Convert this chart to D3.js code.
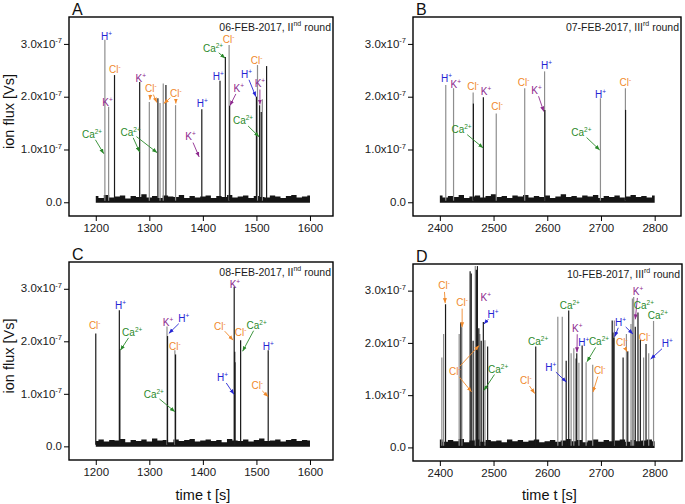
<!DOCTYPE html>
<html>
<head>
<meta charset="utf-8">
<script src="https://cdn.jsdelivr.net/npm/d3@7"></script>
<style>
  body { margin: 0; background: #fff; }
  text { font-family: "Liberation Sans", Arial, sans-serif; }
</style>
</head>
<body>
<svg id="chart" width="685" height="504"></svg>
<script>
// Ion flux peaks, values in units of 1e-7 Vs. run 1 = black trace, run 2 = grey trace
const peaksA = [
  [1217, 3.08, 2], [1224, 1.81, 2], [1235, 2.41, 1], [1282, 2.28, 1], [1300, 1.90, 2],
  [1316, 1.97, 1], [1320, 1.88, 2], [1326, 2.25, 2], [1331, 2.22, 1], [1349, 1.84, 2],
  [1398, 1.76, 1], [1432, 2.30, 1], [1442, 2.75, 1], [1449, 2.98, 2], [1450, 1.83, 1],
  [1500, 2.00, 1], [1502, 2.60, 2], [1506, 1.84, 1], [1509, 1.71, 1], [1511, 1.95, 2],
  [1519, 2.58, 1]
];
const peaksB = [
  [2411, 2.22, 2], [2425.5, 2.16, 2], [2462, 2.08, 2], [2462.5, 1.87, 1], [2481, 1.99, 1],
  [2505, 1.68, 2], [2558, 2.16, 2], [2595, 2.48, 2], [2595.5, 1.75, 1], [2699, 1.97, 2],
  [2745.5, 2.16, 2], [2745.8, 1.75, 1]
];
const peaksC = [
  [1200, 2.15, 1], [1244, 2.59, 1], [1245, 1.85, 1], [1333, 2.28, 2], [1334, 2.10, 1],
  [1347.7, 1.83, 2], [1349, 1.75, 1], [1458.5, 3.04, 1], [1459.5, 1.80, 1], [1460, 1.60, 1],
  [1470.5, 2.02, 1], [1522, 1.83, 1]
];
const peaksD = [
  [2403.7, 1.72, 2], [2407, 2.17, 2], [2410.6, 2.74, 1], [2436, 2.17, 2], [2439, 2.39, 1],
  [2441, 2.30, 2], [2456.4, 3.37, 1], [2458.5, 3.33, 1], [2462, 2.04, 1], [2466, 3.47, 2],
  [2468, 3.40, 1], [2470, 3.47, 1], [2472.6, 2.28, 1], [2474.5, 2.17, 2], [2477, 2.04, 1],
  [2481, 2.40, 1], [2484, 2.05, 2], [2489, 1.93, 1], [2578.6, 1.93, 1], [2619.7, 2.50, 2],
  [2628, 2.50, 2], [2635.3, 1.66, 1], [2640, 2.62, 1], [2644.5, 1.80, 2], [2649.5, 1.90, 2],
  [2653.8, 1.70, 1], [2655, 1.80, 1], [2659, 1.62, 2], [2665, 1.95, 1], [2672.4, 1.63, 2],
  [2684.7, 1.58, 2], [2721, 2.43, 1], [2722.5, 2.20, 1], [2724, 2.10, 1], [2725, 2.43, 2],
  [2741.3, 1.72, 1], [2747.5, 2.17, 2], [2750, 1.84, 1], [2756, 2.36, 2], [2758.6, 2.85, 2],
  [2761, 2.88, 2], [2764, 2.31, 1], [2769, 2.58, 1], [2773.4, 2.06, 1], [2779.5, 1.72, 2],
  [2784, 1.98, 1], [2789, 1.80, 2], [2798, 2.42, 2]
];

// Baseline noise, upper envelope read every 10 s across the run
const noiseA = [0.12, 0.08, 0.14, 0.09, 0.11, 0.13, 0.07, 0.12, 0.10, 0.15, 0.09, 0.12, 0.08, 0.13,
  0.11, 0.10, 0.14, 0.08, 0.12, 0.09, 0.11, 0.13, 0.08, 0.12, 0.10, 0.14, 0.09, 0.11, 0.13, 0.08,
  0.12, 0.10, 0.09, 0.13, 0.11, 0.08, 0.12, 0.14, 0.09, 0.11, 0.13];
const noiseB = [0.13, 0.09, 0.12, 0.10, 0.14, 0.08, 0.11, 0.13, 0.09, 0.12, 0.15, 0.10, 0.12, 0.08,
  0.13, 0.11, 0.14, 0.09, 0.12, 0.10, 0.13, 0.08, 0.11, 0.15, 0.10, 0.12, 0.09, 0.13, 0.11, 0.14,
  0.08, 0.12, 0.10, 0.13, 0.09, 0.11, 0.14, 0.10, 0.12, 0.09, 0.13];
const noiseC = [0.10, 0.13, 0.09, 0.12, 0.11, 0.14, 0.08, 0.12, 0.10, 0.13, 0.09, 0.15, 0.11, 0.12,
  0.08, 0.13, 0.10, 0.12, 0.14, 0.09, 0.11, 0.13, 0.10, 0.12, 0.08, 0.14, 0.11, 0.10, 0.13, 0.09,
  0.12, 0.15, 0.10, 0.11, 0.13, 0.09, 0.12, 0.14, 0.10, 0.12, 0.11];
const noiseD = [0.15, 0.11, 0.14, 0.12, 0.16, 0.10, 0.13, 0.15, 0.11, 0.14, 0.12, 0.13, 0.10, 0.15,
  0.12, 0.14, 0.11, 0.13, 0.15, 0.10, 0.12, 0.14, 0.11, 0.13, 0.16, 0.12, 0.14, 0.10, 0.13, 0.15,
  0.11, 0.14, 0.12, 0.13, 0.15, 0.11, 0.14, 0.12, 0.13, 0.15, 0.12];

// Ion labels: label position (t, v) and arrow targets
const labelsA = [
  { ion: 'H', t: 1220, v: 3.14 }, { ion: 'K', t: 1222, v: 1.89 }, { ion: 'Cl', t: 1235.5, v: 2.52 },
  { ion: 'Ca', t: 1193, v: 1.29, to: [[1215, 0.92]] }, { ion: 'K', t: 1284, v: 2.35 },
  { ion: 'Cl', t: 1302.8, v: 2.15, to: [[1301, 1.94], [1314, 1.89]] },
  { ion: 'Cl', t: 1349.5, v: 2.07, to: [[1327, 1.87], [1349.5, 1.87]] },
  { ion: 'Ca', t: 1265, v: 1.33, to: [[1282, 0.95], [1314.6, 0.94]] },
  { ion: 'K', t: 1377, v: 1.24, to: [[1393, 0.86]] }, { ion: 'H', t: 1398.7, v: 1.87 },
  { ion: 'H', t: 1428.6, v: 2.39 }, { ion: 'Ca', t: 1419, v: 2.92, to: [[1441.7, 2.73]] },
  { ion: 'Cl', t: 1448, v: 3.08 }, { ion: 'K', t: 1467, v: 2.16, to: [[1450.5, 1.83]] },
  { ion: 'H', t: 1481.7, v: 2.43, to: [[1499, 2.0]] }, { ion: 'Cl', t: 1500.4, v: 2.68 },
  { ion: 'K', t: 1506.5, v: 2.25, to: [[1506.5, 1.85]] }, { ion: 'Ca', t: 1475, v: 1.54, to: [[1505, 1.24]] }
];
const labelsB = [
  { ion: 'H', t: 2412.5, v: 2.34 }, { ion: 'K', t: 2429.8, v: 2.23 }, { ion: 'Cl', t: 2462, v: 2.19 },
  { ion: 'K', t: 2486, v: 2.09 }, { ion: 'Cl', t: 2506.6, v: 1.81 },
  { ion: 'Ca', t: 2440.4, v: 1.37, to: [[2480.6, 1.03]] }, { ion: 'Cl', t: 2556, v: 2.265 },
  { ion: 'K', t: 2580, v: 2.12, to: [[2593.5, 1.72]] }, { ion: 'H', t: 2598.5, v: 2.59 },
  { ion: 'H', t: 2699, v: 2.05 }, { ion: 'Ca', t: 2663.6, v: 1.32, to: [[2697.7, 0.99]] },
  { ion: 'Cl', t: 2745.5, v: 2.265 }
];
const labelsC = [
  { ion: 'Cl', t: 1198, v: 2.31 }, { ion: 'H', t: 1246, v: 2.69 },
  { ion: 'Ca', t: 1268, v: 2.17, to: [[1246, 1.83]] }, { ion: 'K', t: 1335, v: 2.35 },
  { ion: 'H', t: 1364.5, v: 2.43, to: [[1336.4, 2.15]] }, { ion: 'Cl', t: 1347.7, v: 1.91 },
  { ion: 'Ca', t: 1308.4, v: 0.99, to: [[1347.7, 0.66]] }, { ion: 'K', t: 1459.8, v: 3.08 },
  { ion: 'Cl', t: 1431.8, v: 2.29, to: [[1456.6, 2.02]] }, { ion: 'H', t: 1436.8, v: 1.31, to: [[1458, 0.99]] },
  { ion: 'Cl', t: 1470.5, v: 2.17 }, { ion: 'Ca', t: 1500.4, v: 2.31, to: [[1474.2, 1.81]] },
  { ion: 'H', t: 1522, v: 1.90 }, { ion: 'Cl', t: 1501.5, v: 1.15, to: [[1522, 0.945]] }
];
const labelsD = [
  { ion: 'Cl', t: 2408, v: 3.09, to: [[2409.9, 2.76]] }, { ion: 'Cl', t: 2441.5, v: 2.77, to: [[2441.5, 2.30]] },
  { ion: 'K', t: 2485.6, v: 2.87 }, { ion: 'H', t: 2499, v: 2.55, to: [[2482, 2.36]] },
  { ion: 'Cl', t: 2428, v: 1.45, to: [[2473, 1.95], [2459, 1.065]] },
  { ion: 'Ca', t: 2508.5, v: 1.50, to: [[2482, 1.09]] }, { ion: 'Ca', t: 2583, v: 2.03 },
  { ion: 'Cl', t: 2560, v: 1.28, to: [[2576.7, 1.03]] }, { ion: 'Ca', t: 2642, v: 2.72 },
  { ion: 'K', t: 2656, v: 2.28, to: [[2655.4, 1.82]] }, { ion: 'H', t: 2668, v: 2.01 },
  { ion: 'Ca', t: 2696.4, v: 2.02, to: [[2674, 1.64]] }, { ion: 'Cl', t: 2697.7, v: 1.47, to: [[2685.2, 1.06]] },
  { ion: 'H', t: 2606.5, v: 1.535, to: [[2635.7, 1.25]] },
  { ion: 'H', t: 2736.7, v: 2.40, to: [[2725.6, 2.12], [2759.6, 2.17]] },
  { ion: 'K', t: 2769, v: 2.975, to: [[2764, 2.45]] }, { ion: 'Ca', t: 2780, v: 2.71 },
  { ion: 'Ca', t: 2806, v: 2.53 }, { ion: 'Cl', t: 2739, v: 2.01, to: [[2749, 1.83]] },
  { ion: 'Cl', t: 2781.4, v: 2.105 }, { ion: 'H', t: 2823.6, v: 1.98, to: [[2792.6, 1.69]] }
];

// Axis ticks
const xTicksLow = [1200, 1300, 1400, 1500, 1600];
const xTicksHigh = [2400, 2500, 2600, 2700, 2800];
const yTicks = [0, 1, 2, 3];

// Ion text and colours
const ions = {
  H: { base: 'H', sup: '+', color: '#2626d4' },
  K: { base: 'K', sup: '+', color: '#8e2a8e' },
  Cl: { base: 'Cl', sup: '-', color: '#f08a2c' },
  Ca: { base: 'Ca', sup: '2+', color: '#2a8a2a' }
};

const panels = [
  { letter: 'A', box: [69, 17, 264, 199], tDomain: [1150, 1643], run: [1200, 1600], xTicks: xTicksLow,
    date: '06-FEB-2017, II', sup: 'nd', peaks: peaksA, noise: noiseA, labels: labelsA, yTitle: true, xTitle: false },
  { letter: 'B', box: [413, 17, 268, 199], tDomain: [2350, 2849], run: [2400, 2800], xTicks: xTicksHigh,
    date: '07-FEB-2017, III', sup: 'rd', peaks: peaksB, noise: noiseB, labels: labelsB, yTitle: false, xTitle: false },
  { letter: 'C', box: [69, 262, 264, 198], tDomain: [1150, 1643], run: [1200, 1600], xTicks: xTicksLow,
    date: '08-FEB-2017, II', sup: 'nd', peaks: peaksC, noise: noiseC, labels: labelsC, yTitle: true, xTitle: true },
  { letter: 'D', box: [413, 264, 269, 197], tDomain: [2350, 2851], run: [2400, 2800], xTicks: xTicksHigh,
    date: '10-FEB-2017, III', sup: 'rd', peaks: peaksD, noise: noiseD, labels: labelsD, yTitle: false, xTitle: true }
];

const svg = d3.select('#chart');

// arrow heads, one per ion colour
const defs = svg.append('defs');
Object.keys(ions).forEach(k => {
  defs.append('marker')
      .attr('id', 'arr-' + k)
      .attr('viewBox', '0 0 10 10')
      .attr('refX', 10).attr('refY', 5)
      .attr('markerWidth', 5).attr('markerHeight', 5)
      .attr('markerUnits', 'userSpaceOnUse')
      .attr('orient', 'auto')
    .append('path')
      .attr('d', 'M0,1 L10,5 L0,9 Z')
      .attr('fill', ions[k].color);
});

function supText(sel, base, sup, baseSize, supSize, after) {
  sel.append('tspan').attr('font-size', baseSize).text(base);
  sel.append('tspan').attr('font-size', supSize).attr('dy', -baseSize * 0.4).text(sup);
  if (after) sel.append('tspan').attr('font-size', baseSize).attr('dy', baseSize * 0.4).text(after);
}

function drawPanel(p) {
  const [bx, by, bw, bh] = p.box;
  const x = d3.scaleLinear().domain(p.tDomain).range([bx, bx + bw]);
  const y = d3.scaleLinear().domain([-0.26, 3.51]).range([by + bh, by]);
  const g = svg.append('g');

  // baseline noise band, stepped so the top edge reads as ragged noise
  const step = (p.run[1] - p.run[0]) / (p.noise.length - 1);
  const band = d3.area()
      .curve(d3.curveStep)
      .x((d, i) => x(p.run[0] + i * step))
      .y0(y(-0.01))
      .y1(d => y(d));
  g.append('path').datum(p.noise).attr('d', band).attr('fill', '#151515');

  // peaks: grey trace first, black on top
  const peaks = p.peaks.slice().sort((a, b) => b[2] - a[2]);
  g.selectAll('.peak')
    .data(peaks)
    .enter().append('line')
      .attr('class', 'peak')
      .attr('x1', d => x(d[0])).attr('x2', d => x(d[0]))
      .attr('y1', y(0.03)).attr('y2', d => y(d[1]))
      .attr('stroke', d => d[2] === 2 ? '#8e8e8e' : '#1a1a1a')
      .attr('stroke-width', 1.2);

  // arrows from labels to peaks
  p.labels.forEach(l => {
    if (!l.to) return;
    const lx = x(l.t), ly = y(l.v);
    l.to.forEach(tp => {
      const tx = x(tp[0]), ty = y(tp[1]);
      const dx = tx - lx, dy = ty - ly;
      const s = 1 / Math.sqrt((dx / 9) ** 2 + (dy / 6) ** 2);
      g.append('line')
          .attr('x1', lx + dx * s).attr('y1', ly + dy * s)
          .attr('x2', tx).attr('y2', ty)
          .attr('stroke', ions[l.ion].color)
          .attr('stroke-width', 0.9)
          .attr('marker-end', `url(#arr-${l.ion})`);
    });
  });

  // ion labels
  p.labels.forEach(l => {
    const t = g.append('text')
        .attr('x', x(l.t)).attr('y', y(l.v) + 3.5)
        .attr('text-anchor', 'middle')
        .attr('fill', ions[l.ion].color);
    supText(t, ions[l.ion].base, ions[l.ion].sup, 10, 6.5);
  });

  // axes
  const ya = g.append('g')
      .attr('transform', `translate(${bx},0)`)
      .call(d3.axisLeft(y).tickValues(yTicks).tickSize(5).tickPadding(2).tickFormat(''));
  ya.select('.domain').remove();
  ya.selectAll('.tick line').attr('stroke', '#000');
  ya.selectAll('.tick text').each(function(d) {
    const t = d3.select(this).attr('fill', '#1a1a1a');
    if (d === 0) t.append('tspan').attr('font-size', 11.5).text('0.0');
    else supText(t, d.toFixed(1) + 'x10', '-7', 11.5, 7.5);
  });

  const xa = g.append('g')
      .attr('transform', `translate(0,${by + bh})`)
      .call(d3.axisBottom(x).tickValues(p.xTicks).tickSize(5).tickPadding(3).tickFormat(d3.format('d')));
  xa.select('.domain').remove();
  xa.selectAll('.tick line').attr('stroke', '#000');
  xa.selectAll('.tick text').attr('font-size', 11.5).attr('fill', '#1a1a1a')
      .attr('font-family', '"Liberation Sans", Arial, sans-serif');

  // frame
  g.append('rect')
      .attr('x', bx).attr('y', by).attr('width', bw).attr('height', bh)
      .attr('fill', 'none').attr('stroke', '#000').attr('stroke-width', 1.4);

  // date / round note
  const note = g.append('text')
      .attr('x', bx + bw - 2).attr('y', by + 13.5)
      .attr('text-anchor', 'end').attr('fill', '#1a1a1a');
  supText(note, p.date, p.sup, 10.5, 7, ' round');

  // panel letter
  g.append('text')
      .attr('x', bx + 3).attr('y', by - 2)
      .attr('font-size', 16).attr('fill', '#111')
      .text(p.letter);

  if (p.yTitle) {
    g.append('text')
        .attr('transform', `translate(14,${by + bh / 2 - 5}) rotate(-90)`)
        .attr('text-anchor', 'middle')
        .attr('font-size', 14.5).attr('fill', '#111')
        .text('ion flux [Vs]');
  }
  if (p.xTitle) {
    g.append('text')
        .attr('x', bx + bw / 2 + 2).attr('y', 500)
        .attr('text-anchor', 'middle')
        .attr('font-size', 14.5).attr('fill', '#111')
        .text('time t [s]');
  }
}

panels.forEach(drawPanel);
</script>
</body>
</html>
